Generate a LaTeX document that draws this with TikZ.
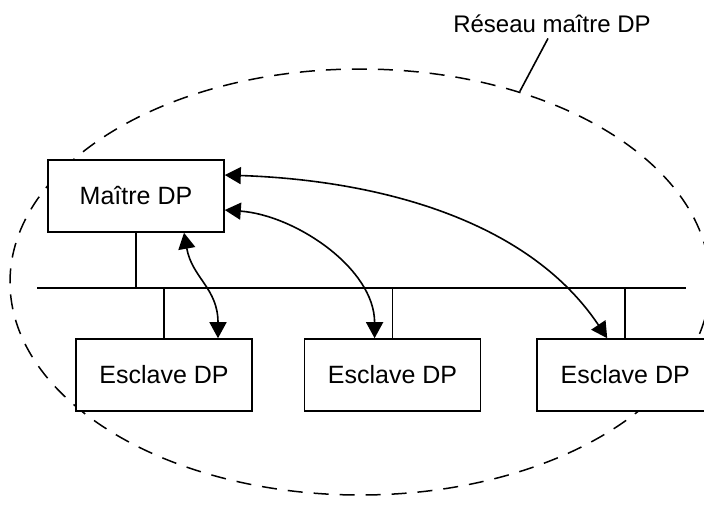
\documentclass[tikz,border=0pt]{standalone}
\usepackage{fontspec}
\setmainfont{Liberation Sans}
\usetikzlibrary{shapes.geometric,arrows.meta,positioning}
\tikzset{
	station/.style = {
		draw, rectangle, fill=white, line width=1.6pt, minimum width=176pt, minimum height=72pt,
		inner sep=0pt, font=\fontsize{25}{30}\selectfont
	}
}
\tikzset{
	bus/.style = {
		line width=1.6pt
	}
}
\tikzset{
	exchange/.style = {
		bus, {Triangle[length=16pt,width=17pt]}-{Triangle[length=16pt,width=17pt]}
	}
}
\tikzset{
	network/.style = {
		draw, ellipse, dash pattern=on 15pt off 11pt, line width=1.5pt,
		minimum width=700pt, minimum height=426pt, inner sep=0pt
	}
}
\tikzset{
	tag/.style = {
		font=\fontsize{24}{28}\selectfont, inner sep=6pt
	}
}

\begin{document}
\begin{tikzpicture}[x=1pt, y=-1pt]
	\useasboundingbox (0,0) rectangle (704,523);

	\node[network](Network) at (360,282){};
	\node[tag, anchor=base](NetLabel) at (552,32){Réseau maître DP};
	\draw[bus] ([xshift=-4pt]NetLabel.south) -- (Network.50);

	\node[station](Master) at (136,196){Maître DP};
	\node[station](SlaveA) at (164,375){Esclave DP};
	\node[station, right=51pt of SlaveA](SlaveB){Esclave DP};
	\node[station, right=55pt of SlaveB](SlaveC){Esclave DP};

	% field bus with its drops
	\coordinate (BusWest) at (37,288);
	\coordinate (BusEast) at (686,288);
	\draw[bus] (BusWest) -- (BusEast);
	\draw[bus] (Master) -- (Master |- BusWest);
	\draw[bus] (SlaveA) -- (SlaveA |- BusWest);
	\draw[bus] (SlaveB) -- (SlaveB |- BusWest);
	\draw[bus] (SlaveC) -- (SlaveC |- BusWest);

	\draw[exchange] ([xshift=48pt]Master.south) .. controls +(8,45) and +(0,-50) .. ([xshift=54pt]SlaveA.north);
	\draw[exchange] ([yshift=-14pt]Master.east) .. controls +(70,5) and +(0,-70) .. ([xshift=-18pt]SlaveB.north);
	\draw[exchange] ([yshift=21pt]Master.east) .. controls +(150,5) and +(-80,-120) .. ([xshift=-18pt]SlaveC.north);
\end{tikzpicture}
\end{document}
